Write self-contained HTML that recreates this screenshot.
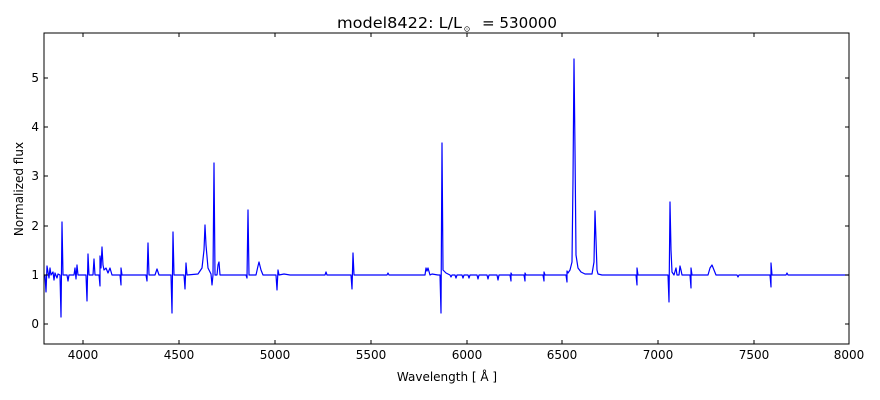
<!DOCTYPE html>
<html><head><meta charset="utf-8"><style>
body{margin:0;background:#fff;}
svg{display:block;font-family:"DejaVu Sans","Liberation Sans",sans-serif;}
</style></head><body>
<svg width="880" height="400" viewBox="0 0 880 400">
<rect width="880" height="400" fill="#fff"/>
<defs><clipPath id="c"><rect x="44" y="33" width="805" height="311"/></clipPath></defs>
<path clip-path="url(#c)" fill="none" stroke="#0000ff" stroke-width="1.2" stroke-linejoin="round" d="
M44 275 L45 275 L46 292 L47 266 L48 272 L49 278 L50 268 L51 275 L53 272 L54 280 L55 273 L57 278 L58 274 L60 275
L61 317 L62 222 L63 275 L67 275 L68 281 L69 275 L74 275 L75 268 L76 279 L77 265 L78 275 L86 275 L87 301 L88 254 L89 275
L93 275 L94 259 L95 275 L99 275 L100 286 L100 256 L101 268 L102 247 L103 265 L104 270 L106 268 L108 273 L110 268 L112 275
L120 275 L121 285 L121 268 L122 275 L146 275 L147 281 L148 243 L149 275 L155 275 L157 269 L159 275 L171 275 L172 313 L173 232 L174 275
L184 275 L185 289 L186 263 L187 275 L198 274 L202 268 L204 250 L205 225 L206 245 L208 268 L211 274 L212 285 L213 275 L214 163 L215 275
L217 275 L218 265 L219 262 L220 275 L246 275 L247 278 L248 210 L249 275 L256 275 L258 266 L259 262 L261 270 L263 275
L276 275 L277 290 L278 270 L279 275 L284 274 L290 275 L325 275 L326 272 L327 275 L351 275 L352 289 L353 253 L354 275
L387 275 L388 273 L389 275 L425 275 L426 268 L427 271 L428 268 L430 275 L432 274 L438 275 L440 275 L441 313 L442 143 L443 270 L446 273
L450 275 L451 277 L452 275 L455 275 L456 278 L457 275 L462 275 L463 278 L464 275 L468 275 L469 278 L470 275 L477 275 L478 279 L479 275
L487 275 L488 279 L489 275 L497 275 L498 280 L499 275 L510 275 L511 281 L511 273 L512 275 L524 275 L525 281 L525 273 L526 275
L543 275 L544 281 L544 272 L545 275 L566 275 L567 282 L567 271 L568 273 L570 270 L572 262 L573 180 L574 59 L575 150 L576 255 L578 268 L581 272 L585 274
L592 274 L594 262 L595 211 L596 240 L597 270 L598 274 L602 275 L636 275 L637 285 L637 268 L638 275
L668 275 L669 302 L670 202 L671 250 L672 272 L674 275 L676 268 L677 275 L679 275 L680 266 L681 270 L682 275
L690 275 L691 288 L691 268 L692 275 L708 275 L710 268 L712 265 L714 270 L716 275 L737 275 L738 277 L739 275
L770 275 L771 287 L771 263 L772 275 L786 275 L787 273 L788 275 L849 275"/>
<rect x="44" y="33" width="805" height="311" fill="none" stroke="#000" stroke-width="1"/>
<g stroke="#000" stroke-width="1">
<path d="M83 344v-4M83 33v4M179 344v-4M179 33v4M275 344v-4M275 33v4M371 344v-4M371 33v4M467 344v-4M467 33v4M562 344v-4M562 33v4M658 344v-4M658 33v4M754 344v-4M754 33v4"/>
<path d="M44 324h4M849 324h-4M44 275h4M849 275h-4M44 226h4M849 226h-4M44 176h4M849 176h-4M44 127h4M849 127h-4M44 78h4M849 78h-4"/>
</g>
<g font-size="12" fill="#000" text-anchor="middle">
<text x="83" y="359">4000</text><text x="179" y="359">4500</text><text x="275" y="359">5000</text><text x="371" y="359">5500</text>
<text x="467" y="359">6000</text><text x="562" y="359">6500</text><text x="658" y="359">7000</text><text x="754" y="359">7500</text><text x="849" y="359">8000</text>
</g>
<g font-size="12" fill="#000" text-anchor="end">
<text x="39" y="328">0</text><text x="39" y="279">1</text><text x="39" y="230">2</text><text x="39" y="180">3</text><text x="39" y="131">4</text><text x="39" y="82">5</text>
</g>
<text x="447" y="381" font-size="12" text-anchor="middle">Wavelength [ Å ]</text>
<text transform="translate(23,189) rotate(-90)" font-size="12" text-anchor="middle">Normalized flux</text>
<text x="337" y="28" font-size="15" textLength="125" lengthAdjust="spacingAndGlyphs">model8422: L/L</text>
<circle cx="467" cy="29" r="2.3" fill="none" stroke="#000" stroke-width="0.6"/>
<circle cx="467" cy="29" r="0.5" fill="#000"/>
<text x="482" y="28" font-size="15" textLength="75" lengthAdjust="spacingAndGlyphs">= 530000</text>
</svg>
</body></html>
